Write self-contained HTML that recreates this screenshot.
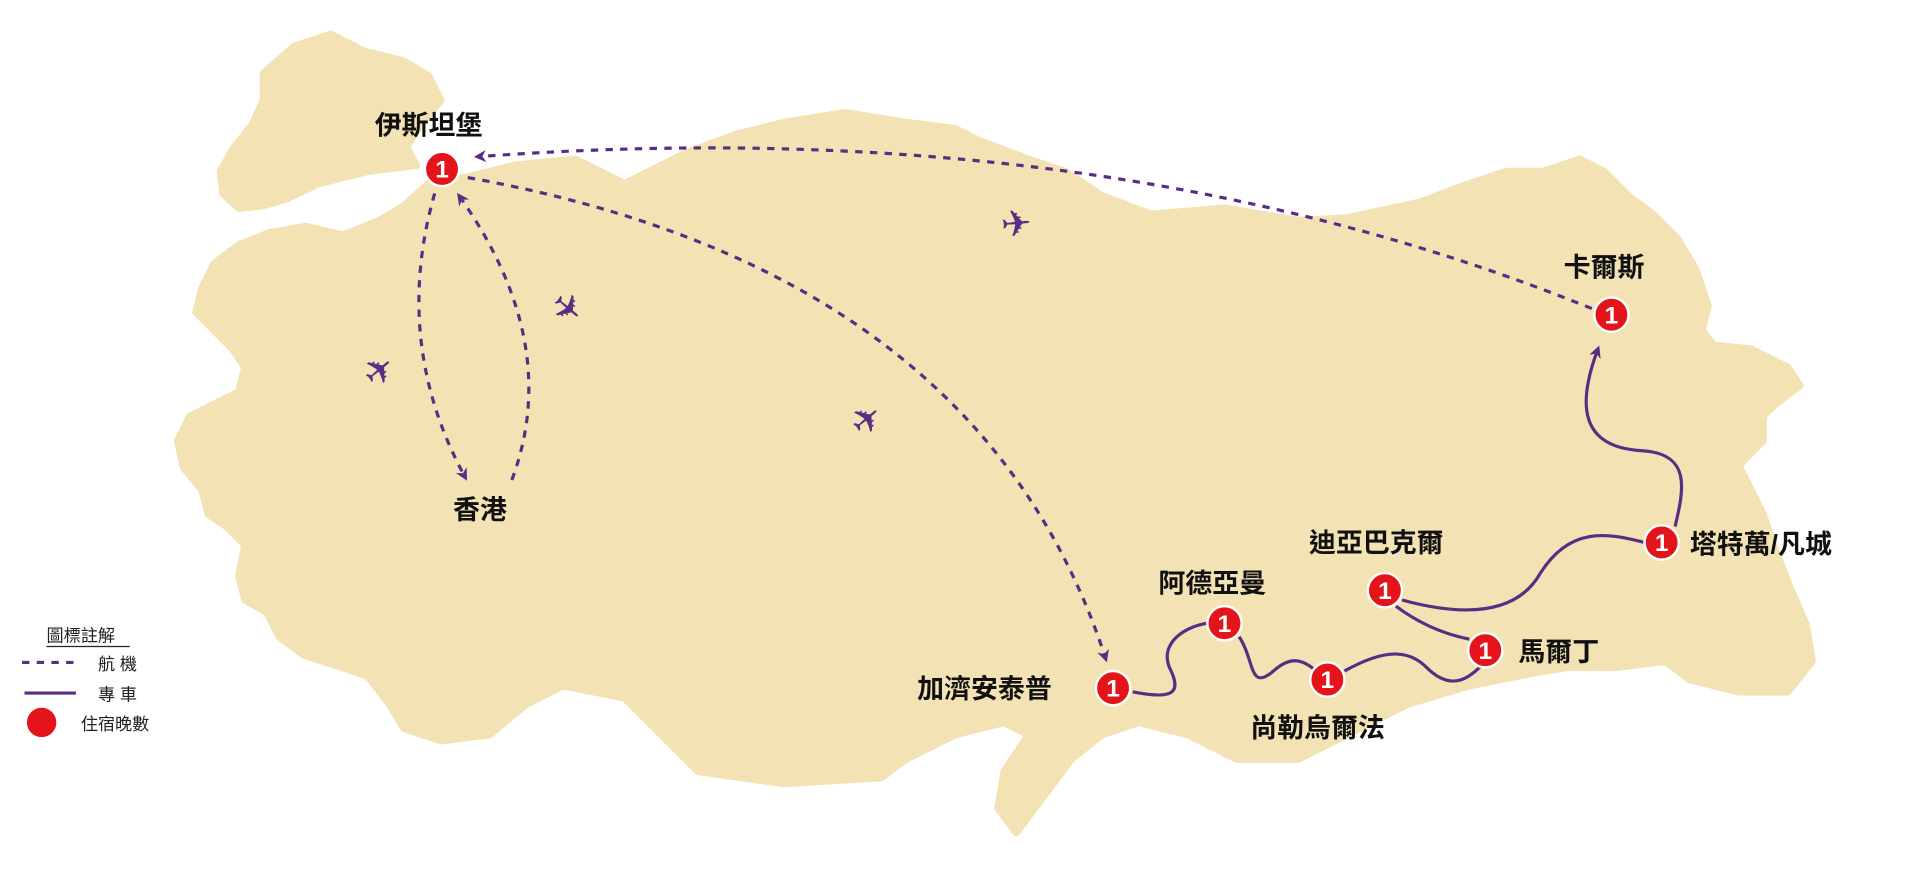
<!DOCTYPE html>
<html><head><meta charset="utf-8"><style>
html,body{margin:0;padding:0;background:#fff;width:1920px;height:870px;overflow:hidden}
svg{display:block}
text{font-family:"Liberation Sans","Noto Sans CJK TC",sans-serif}
.lb{font-size:22px;font-weight:bold;fill:#111}
.fl{fill:none;stroke:#5b2c83;stroke-width:2.6;stroke-dasharray:6 6}
.dr{fill:none;stroke:#5b2c83;stroke-width:2.6}
.pl{font-size:30px;fill:#5b2c83}
</style></head><body>
<svg width="1920" height="870" viewBox="0 0 1568 710.5" xmlns="http://www.w3.org/2000/svg">
<defs><marker id="a" markerWidth="10" markerHeight="10" refX="7" refY="5" orient="auto" markerUnits="userSpaceOnUse"><path d="M0,0 L10,5 L0,10 L3,5 Z" fill="#5b2c83"/></marker></defs>
<g fill="#f3e2b3" stroke="#f3e2b3" stroke-width="6" stroke-linejoin="round">
<polygon points="215,60 240,38 270,28 298,42 330,50 350,62 360,82 345,100 332,120 340,135 300,140 260,150 235,162 215,168 195,170 182,158 180,140 190,122 206,102 215,82"/>
<polygon points="352,148 380,145 420,135 470,130 510,150 560,125 600,110 640,100 690,92 740,100 780,105 800,115 840,130 870,140 900,160 940,175 1000,170 1060,180 1100,178 1160,165 1200,150 1230,140 1260,140 1290,130 1310,140 1330,160 1350,175 1370,195 1385,220 1395,250 1390,270 1400,282 1430,285 1460,300 1470,315 1450,330 1440,340 1440,360 1420,380 1430,400 1440,420 1450,450 1462,480 1475,510 1480,540 1460,565 1420,565 1380,555 1360,540 1320,545 1280,545 1250,550 1200,560 1150,575 1100,600 1060,620 1010,620 970,600 930,590 900,600 875,620 860,640 845,660 830,680 815,660 820,630 840,600 820,590 780,600 740,620 720,635 640,640 570,630 540,600 510,570 460,560 430,575 400,600 360,605 330,595 318,575 300,552 270,542 248,535 228,520 218,500 200,490 195,470 200,445 185,430 170,420 165,400 150,382 145,360 155,340 175,330 195,320 200,300 190,285 175,270 160,255 165,235 175,215 195,200 220,190 250,185 280,192 310,180 330,168"/>
</g>
<!-- flights -->
<path class="fl" d="M355,158 Q320,280 380,390" marker-end="url(#a)"/>
<path class="fl" d="M418,392 Q460,280 375,160" marker-end="url(#a)"/>
<path class="fl" d="M382,145 Q800,220 903,538" marker-end="url(#a)"/>
<path class="fl" d="M1300,252 Q900,90 390,128" marker-end="url(#a)"/>
<!-- drives -->
<path class="dr" d="M925,565 C960,572 965,565 955,545 C945,520 980,505 1000,509"/>
<path class="dr" d="M1012,520 C1025,540 1020,565 1040,548 C1060,530 1070,545 1084,555"/>
<path class="dr" d="M1098,548 C1130,530 1150,530 1165,545 C1185,565 1200,555 1213,540"/>
<path class="dr" d="M1140,495 C1160,510 1180,518 1200,522"/>
<path class="dr" d="M1145,490 C1200,505 1240,500 1258,468 C1282,430 1312,435 1343,443"/>
<path class="dr" d="M1368,430 C1375,400 1382,370 1340,368 C1290,365 1288,330 1305,285" marker-end="url(#a)"/>
<!-- planes -->
<text class="pl" x="830" y="193" text-anchor="middle" transform="rotate(-5 830 183)">✈</text>
<text class="pl" x="463" y="262" text-anchor="middle" transform="rotate(40 463 252)">✈</text>
<text class="pl" x="310" y="313" text-anchor="middle" transform="rotate(-40 310 303)">✈</text>
<text class="pl" x="708" y="353" text-anchor="middle" transform="rotate(-40 708 343)">✈</text>
<!-- nodes -->
<g fill="#e3151b" stroke="#fff" stroke-width="2">
<circle cx="361" cy="138" r="14"/><circle cx="1316" cy="257" r="14"/><circle cx="1357" cy="443" r="14"/><circle cx="1131" cy="482" r="14"/><circle cx="1213" cy="531" r="14"/><circle cx="1084" cy="555" r="14"/><circle cx="1000" cy="509" r="14"/><circle cx="909" cy="562" r="14"/>
</g>
<g fill="#fff" font-size="20" font-weight="bold" text-anchor="middle">
<text x="361" y="145">1</text><text x="1316" y="264">1</text><text x="1357" y="450">1</text><text x="1131" y="489">1</text><text x="1213" y="538">1</text><text x="1084" y="562">1</text><text x="1000" y="516">1</text><text x="909" y="569">1</text>
</g>
<g class="lb">
<text x="306" y="110">伊斯坦堡</text>
<text x="370" y="424">香港</text>
<text x="1277" y="226">卡爾斯</text>
<text x="1380" y="452">塔特萬/凡城</text>
<text x="1069" y="451">迪亞巴克爾</text>
<text x="1240" y="540">馬爾丁</text>
<text x="946" y="484">阿德亞曼</text>
<text x="1021" y="602">尚勒烏爾法</text>
<text x="749" y="570">加濟安泰普</text>
</g>
<!-- legend -->
<text x="38" y="524" font-size="14" fill="#222">圖標註解</text>
<line x1="38" y1="528" x2="106" y2="528" stroke="#222" stroke-width="1"/>
<line x1="18" y1="541" x2="63" y2="541" stroke="#5b2c83" stroke-width="2.5" stroke-dasharray="6 6"/>
<text x="80" y="547" font-size="14" fill="#222">航 機</text>
<line x1="20" y1="566" x2="62" y2="566" stroke="#5b2c83" stroke-width="2.5"/>
<text x="80" y="572" font-size="14" fill="#222">專 車</text>
<circle cx="34" cy="590" r="12" fill="#e3151b"/>
<text x="66" y="596" font-size="14" fill="#222">住宿晚數</text>
</svg>
</body></html>
